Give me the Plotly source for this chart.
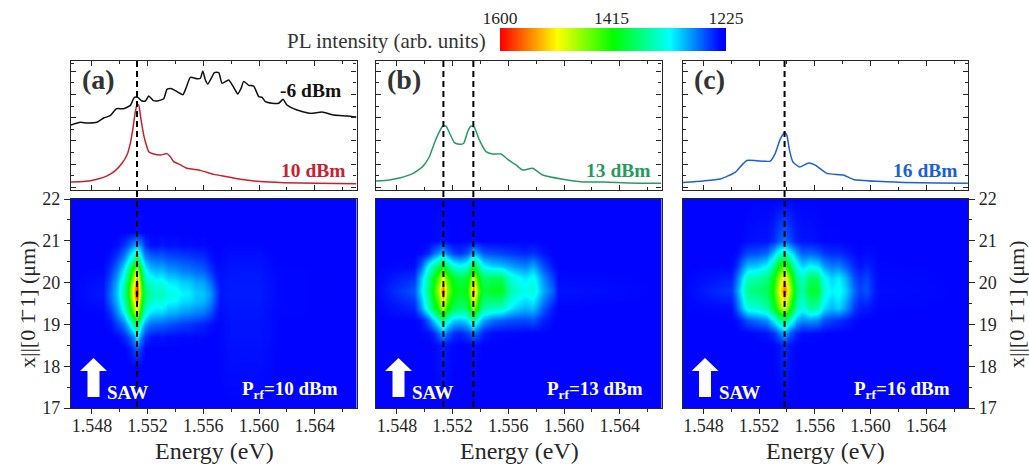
import plotly.graph_objects as go

W, H = 1029, 465
FONT = "Liberation Serif"
INK = "#262626"

# ---------- spectra (normalised units of the upper panels) ----------
black_E = [1.5465,1.54717,1.54765,1.54837,1.54885,1.54932,1.54976,1.55028,1.55076,1.55105,1.55129,1.55160,1.55184,1.55208,1.55239,1.55268,1.55316,1.55339,1.55368,1.55399,1.55423,1.55454,1.55478,1.55507,1.55555,1.55579,1.55596,1.55615,1.55632,1.55663,1.55679,1.55711,1.55735,1.55782,1.55818,1.55847,1.55871,1.55890,1.55926,1.55962,1.55998,1.56022,1.56046,1.56094,1.56141,1.56173,1.56201,1.56273,1.56369,1.56453,1.56537,1.56632,1.56700]
black_I = [.504,.525,.519,.525,.558,.576,.630,.630,.656,.718,.718,.690,.690,.729,.695,.690,.708,.780,.786,.770,.755,.739,.796,.873,.863,.866,.922,.853,.822,.879,.910,.910,.827,.853,.796,.744,.788,.842,.811,.806,.724,.718,.685,.672,.672,.703,.659,.620,.594,.605,.581,.574,.566]
red_E = [1.5465,1.54741,1.54837,1.54909,1.54968,1.55016,1.55052,1.55076,1.55095,1.55112,1.55124,1.55136,1.55153,1.55172,1.55191,1.55208,1.55244,1.55292,1.55339,1.55363,1.55387,1.55423,1.55483,1.55579,1.55675,1.55770,1.55866,1.56010,1.56177,1.56417,1.56700]
red_I = [.062,.065,.083,.109,.150,.207,.271,.362,.478,.607,.659,.659,.543,.426,.349,.297,.279,.271,.282,.258,.220,.202,.168,.152,.121,.103,.083,.065,.057,.052,.049]
green_E = [1.5465,1.54746,1.54818,1.54913,1.54985,1.55033,1.55069,1.55105,1.55129,1.55153,1.55177,1.55213,1.55249,1.55280,1.55308,1.55332,1.55356,1.55392,1.55440,1.55488,1.55548,1.55596,1.55655,1.55703,1.55775,1.55847,1.55991,1.56134,1.56278,1.56469,1.56699]
green_I = [.070,.078,.093,.127,.181,.258,.362,.452,.496,.496,.444,.367,.354,.362,.452,.496,.486,.388,.297,.279,.279,.238,.194,.155,.168,.116,.083,.062,.062,.054,.052]
blue_E = [1.5465,1.54801,1.54921,1.55028,1.55076,1.55112,1.55184,1.55280,1.55316,1.55351,1.55383,1.55399,1.55418,1.55442,1.55490,1.55555,1.55603,1.55687,1.55806,1.55878,1.56046,1.56237,1.56477,1.56699]
blue_I = [.059,.070,.085,.137,.193,.229,.227,.224,.284,.392,.446,.425,.309,.219,.178,.209,.193,.129,.116,.082,.067,.059,.054,.052]

# ---------- position-resolved PL maps ----------
a_E = [1.5465,1.5488,1.5493,1.5498,1.5503,1.5507,1.5510,1.55124,1.5515,1.5518,1.5522,1.5526,1.5530,1.5535,1.5540,1.5545,1.5550,1.5555,1.5560,1.5565,1.5569,1.5572,1.5580,1.5600,1.5610,1.5615,1.5670]
a_y = [17,18,18.4,18.7,19,19.3,19.55,19.75,20,20.3,20.6,20.9,21.2,22]
a_z = [
 [1235,1235,1235,1235,1235,1235,1235,1235,1235,1235,1235,1235,1235,1235,1235,1235,1235,1235,1235,1235,1235,1235,1235,1235,1235,1235,1235],
 [1235,1235,1235,1235,1235,1235,1235,1235,1235,1235,1235,1235,1235,1235,1235,1235,1235,1235,1235,1235,1235,1236,1238,1238,1236,1235,1235],
 [1235,1235,1235,1235,1235,1240,1255,1262,1250,1236,1235,1235,1235,1235,1235,1235,1235,1235,1235,1235,1235,1236,1239,1239,1236,1235,1235],
 [1235,1235,1235,1235,1245,1260,1285,1320,1275,1250,1242,1238,1240,1237,1238,1236,1237,1236,1236,1235,1235,1236,1240,1240,1237,1235,1235],
 [1235,1235,1238,1255,1275,1310,1360,1395,1320,1285,1272,1268,1266,1262,1258,1254,1252,1248,1245,1240,1236,1236,1240,1240,1237,1235,1235],
 [1235,1236,1250,1280,1320,1380,1450,1500,1390,1335,1312,1306,1306,1296,1294,1286,1284,1278,1275,1262,1245,1238,1241,1241,1237,1236,1235],
 [1235,1240,1265,1295,1345,1410,1500,1560,1430,1365,1342,1332,1335,1320,1318,1308,1306,1298,1295,1280,1255,1240,1242,1242,1238,1236,1235],
 [1235,1242,1268,1300,1355,1425,1530,1600,1445,1375,1352,1340,1345,1328,1326,1316,1314,1302,1300,1285,1258,1241,1243,1243,1238,1236,1235],
 [1235,1240,1262,1295,1345,1410,1505,1575,1430,1358,1337,1328,1330,1315,1313,1304,1302,1292,1290,1272,1250,1240,1242,1242,1238,1236,1235],
 [1235,1236,1250,1275,1315,1370,1440,1485,1385,1322,1302,1294,1296,1285,1283,1276,1274,1268,1265,1252,1240,1238,1241,1241,1237,1236,1235],
 [1235,1235,1240,1255,1280,1315,1350,1375,1320,1284,1272,1268,1268,1262,1260,1257,1255,1252,1250,1240,1236,1236,1239,1239,1236,1235,1235],
 [1235,1235,1235,1238,1250,1265,1285,1290,1275,1250,1240,1238,1242,1238,1240,1237,1238,1236,1237,1235,1235,1235,1236,1236,1235,1235,1235],
 [1235,1235,1235,1235,1235,1235,1236,1238,1236,1235,1235,1235,1235,1235,1235,1235,1235,1235,1235,1235,1235,1235,1235,1235,1235,1235,1235],
 [1235,1235,1235,1235,1235,1235,1235,1235,1235,1235,1235,1235,1235,1235,1235,1235,1235,1235,1235,1235,1235,1235,1235,1235,1235,1235,1235],
]

b_E = [1.5465,1.5492,1.5497,1.5502,1.5506,1.5510,1.55134,1.5516,1.5520,1.5525,1.5530,1.5533,1.55349,1.5538,1.5542,1.5548,1.5555,1.5560,1.5565,1.5572,1.5578,1.5585,1.5592,1.5596,1.5670]
b_y = [17,18.5,18.8,19.1,19.4,19.8,20.1,20.4,20.7,21,22]
b_z = [
 [1235,1235,1235,1235,1235,1235,1235,1235,1235,1235,1235,1235,1235,1235,1235,1235,1235,1235,1235,1235,1235,1235,1235,1235,1235],
 [1235,1235,1235,1235,1236,1240,1245,1240,1236,1235,1235,1237,1240,1237,1235,1235,1235,1235,1235,1235,1235,1235,1235,1235,1235],
 [1235,1235,1236,1238,1245,1270,1290,1270,1250,1245,1255,1265,1275,1260,1245,1238,1237,1236,1236,1235,1235,1235,1235,1235,1235],
 [1235,1235,1240,1265,1300,1340,1370,1335,1305,1300,1310,1340,1355,1320,1290,1272,1265,1262,1260,1258,1262,1245,1236,1235,1235],
 [1235,1245,1285,1340,1385,1430,1480,1420,1385,1370,1380,1435,1470,1400,1355,1345,1340,1320,1305,1295,1300,1265,1242,1235,1235],
 [1235,1262,1310,1365,1415,1480,1575,1465,1415,1400,1410,1490,1560,1450,1390,1400,1405,1360,1340,1325,1335,1292,1265,1240,1235],
 [1235,1250,1300,1355,1400,1450,1500,1440,1400,1385,1395,1450,1490,1420,1375,1380,1382,1342,1325,1312,1325,1282,1255,1237,1235],
 [1235,1237,1265,1320,1350,1385,1410,1370,1335,1320,1335,1375,1400,1360,1320,1305,1300,1292,1285,1278,1290,1260,1240,1235,1235],
 [1235,1235,1237,1245,1265,1285,1300,1275,1255,1250,1262,1280,1295,1280,1262,1258,1255,1252,1250,1246,1250,1240,1235,1235,1235],
 [1235,1235,1235,1235,1236,1238,1240,1237,1235,1235,1235,1236,1238,1236,1235,1235,1235,1235,1235,1235,1235,1235,1235,1235,1235],
 [1235,1235,1235,1235,1235,1235,1235,1235,1235,1235,1235,1235,1235,1235,1235,1235,1235,1235,1235,1235,1235,1235,1235,1235,1235],
]

c_E = [1.5465,1.5500,1.5504,1.5508,1.5512,1.5518,1.5525,1.5530,1.5534,1.55383,1.5542,1.5547,1.5551,1.5556,1.5562,1.5566,1.5572,1.5577,1.5582,1.5588,1.5592,1.5597,1.5602,1.5606,1.5670]
c_y = [17,18.5,18.8,19.1,19.4,19.8,20.1,20.4,20.7,21,22]
c_z = [
 [1235,1235,1235,1235,1235,1235,1235,1235,1235,1235,1235,1235,1235,1235,1235,1235,1235,1235,1235,1235,1235,1235,1235,1235,1235],
 [1235,1235,1235,1235,1235,1235,1235,1236,1240,1250,1240,1236,1235,1235,1235,1235,1235,1235,1235,1235,1235,1235,1235,1235,1235],
 [1235,1235,1235,1235,1235,1237,1240,1250,1268,1295,1265,1245,1238,1238,1237,1236,1235,1235,1235,1235,1235,1235,1235,1235,1235],
 [1235,1235,1238,1250,1262,1272,1282,1315,1350,1375,1340,1295,1280,1285,1280,1262,1255,1250,1245,1238,1236,1235,1235,1235,1235],
 [1235,1238,1262,1300,1330,1335,1350,1395,1450,1490,1430,1345,1325,1355,1350,1310,1295,1305,1285,1255,1243,1242,1238,1236,1235],
 [1235,1252,1282,1325,1365,1370,1380,1420,1490,1565,1480,1375,1350,1395,1395,1335,1315,1325,1305,1272,1255,1262,1245,1238,1235],
 [1235,1244,1270,1310,1345,1350,1365,1405,1465,1525,1450,1360,1340,1378,1378,1325,1305,1315,1295,1262,1250,1258,1243,1237,1235],
 [1235,1236,1248,1278,1298,1302,1318,1362,1410,1440,1395,1325,1305,1318,1312,1288,1275,1278,1265,1248,1240,1245,1240,1236,1235],
 [1235,1235,1237,1248,1258,1260,1268,1298,1330,1345,1320,1285,1265,1268,1262,1252,1248,1248,1243,1238,1236,1238,1237,1235,1235],
 [1235,1235,1235,1236,1238,1240,1240,1248,1262,1272,1258,1244,1240,1240,1238,1236,1236,1236,1235,1235,1235,1235,1235,1235,1235],
 [1235,1235,1235,1235,1235,1235,1235,1235,1235,1235,1235,1235,1235,1235,1235,1235,1235,1235,1235,1235,1235,1235,1235,1235,1235],
]

scale_values = [1600, 1506, 1412, 1318, 1225]
scale_ticks = [1600, 1415, 1225]
energy_ticks = [1.548, 1.552, 1.556, 1.560, 1.564]
energy_minor = [1.550, 1.554, 1.558, 1.562, 1.566]
position_ticks = [17, 18, 19, 20, 21, 22]
position_minor = [17.5, 18.5, 19.5, 20.5, 21.5]
signal_ticks = [0.02, 0.2, 0.38, 0.56, 0.74, 0.92]
signal_minor = [0.11, 0.29, 0.47, 0.65, 0.83, 0.98]
peaks_a = [1.55124]
peaks_b = [1.55134, 1.55349]
peaks_c = [1.55383]

COLORSCALE = [[0, "#0000ff"], [0.027, "#0003ff"], [0.25, "#00ffff"], [0.5, "#00ff00"], [0.75, "#ffff00"], [1, "#ff0000"]]
E_RANGE = [1.5465, 1.5670]

PANEL_L = [71, 376, 682.5]
PANEL_W = 285.5
TOP = (61, 190)
BOT = (199, 408)


def px(x):
    return x / W


def py(y):
    return 1 - y / H


fig = go.Figure()
layout = dict(
    template="none",
    width=W, height=H, autosize=False,
    margin=dict(l=0, r=0, t=0, b=0, pad=0, autoexpand=False),
    paper_bgcolor="white", plot_bgcolor="white", showlegend=False,
    font=dict(family=FONT, color=INK, size=18),
)
annotations, shapes = [], []


def frame_axis(**kw):
    base = dict(showgrid=False, zeroline=False, showline=True, linecolor=INK,
                linewidth=1.4, mirror="allticks", tickcolor=INK, tickwidth=1.2, automargin=False)
    base.update(kw)
    return base


def note(x, y, text, size, color, anchor="left", angle=0):
    annotations.append(dict(xref="paper", yref="paper", x=px(x), y=py(y), text=text,
                            showarrow=False, xanchor=anchor, yanchor="middle", textangle=angle,
                            font=dict(family=FONT, size=size, color=color)))


spectra = [
    [(black_E, black_I, "#111111"), (red_E, red_I, "#c8202e")],
    [(green_E, green_I, "#259b5e")],
    [(blue_E, blue_I, "#1a5fdc")],
]
maps = [(a_E, a_y, a_z), (b_E, b_y, b_z), (c_E, c_y, c_z)]
peaks = [peaks_a, peaks_b, peaks_c]
letters = ["(a)", "(b)", "(c)"]
powers = ["10", "13", "16"]
label_colors = ["#c8202e", "#259b5e", "#1a5fdc"]
TICKFONT = dict(family=FONT, size=18, color=INK)

for i, left in enumerate(PANEL_L):
    dom = [px(left), px(left + PANEL_W)]
    t, b = 2 * i + 1, 2 * i + 2
    tx, ty = f"x{t}", f"y{t}"
    bx, by = f"x{b}", f"y{b}"

    for E, I, color in spectra[i]:
        fig.add_trace(go.Scatter(x=E, y=I, mode="lines",
                                 line=dict(color=color, width=1.5, shape="spline", smoothing=0.5),
                                 xaxis=tx, yaxis=ty, hoverinfo="skip"))
    E, Y, Z = maps[i]
    fig.add_trace(go.Heatmap(x=E, y=Y, z=Z, zmin=1225, zmax=1600, colorscale=COLORSCALE,
                             zsmooth="best", showscale=False, xaxis=bx, yaxis=by))

    layout[f"xaxis{t}"] = frame_axis(
        domain=dom, range=E_RANGE, anchor=ty, tickvals=energy_ticks, showticklabels=False,
        ticks="inside", ticklen=5, minor=dict(ticks="inside", ticklen=3, tickvals=energy_minor,
                                              tickcolor=INK, tickwidth=1.1))
    layout[f"yaxis{t}"] = frame_axis(
        domain=[py(TOP[1]), py(TOP[0])], range=[0, 1], anchor=tx, tickvals=signal_ticks,
        showticklabels=False, ticks="inside", ticklen=5,
        minor=dict(ticks="inside", ticklen=3, tickvals=signal_minor, tickcolor=INK, tickwidth=1.1))
    layout[f"xaxis{b}"] = frame_axis(
        domain=dom, range=E_RANGE, anchor=by, tickvals=energy_ticks, tickformat=".3f",
        ticks="outside", ticklen=5, mirror=True, tickfont=TICKFONT, ticklabelstandoff=-4,
        minor=dict(ticks="outside", ticklen=3, tickvals=energy_minor, tickcolor=INK, tickwidth=1.1))
    yopts = dict(domain=[py(BOT[1]), py(BOT[0])], range=[17, 22], anchor=bx, mirror=True)
    if i in (0, 2):
        yopts.update(side="left" if i == 0 else "right", tickvals=position_ticks, ticks="outside",
                     ticklen=6, tickfont=TICKFONT,
                     minor=dict(ticks="outside", ticklen=3, tickvals=position_minor,
                                tickcolor=INK, tickwidth=1.1))
    else:
        yopts.update(tickvals=[], ticks="", showticklabels=False)
    layout[f"yaxis{b}"] = frame_axis(**yopts)

    # dashed guide lines through both panels
    for e in peaks[i]:
        shapes.append(dict(type="line", xref=tx, yref="paper", x0=e, x1=e,
                           y0=py(TOP[0]), y1=py(BOT[1]),
                           line=dict(color="#000000", width=2, dash="6px,4px")))
    # SAW arrow
    ax = left + 22.5
    pts = [(ax, 358), (ax + 13.5, 371), (ax + 6, 371), (ax + 6, 397), (ax - 6, 397), (ax - 6, 371), (ax - 13.5, 371)]
    path = "M " + " L ".join(f"{px(x):.5f} {py(y):.5f}" for x, y in pts) + " Z"
    shapes.append(dict(type="path", xref="paper", yref="paper", path=path,
                       fillcolor="white", line=dict(width=0)))

    note(left + 9, 79, f"<b>{letters[i]}</b>", 28, "#333333")
    note(left + 34, 392, "<b>SAW</b>", 19, "white")
    note(left + 169, 390, f"<b>P<sub>rf</sub>={powers[i]} dBm</b>", 19, "white")
    note(left + 208, 170, f"<b>{powers[i]} dBm</b>", 19.5, label_colors[i])
    note(left + 143, 451, "Energy (eV)", 24, INK, anchor="center")

note(278, 91, "<b>-6 dBm</b>", 19.5, "#111111")
note(285, 41, "PL intensity (arb. units)", 21, "#333333")
position_title = "x||[0 1\u0304 1] (\u03bcm)"
note(27, 304, position_title, 22, INK, anchor="center", angle=-90)
note(1016, 304, position_title, 22, INK, anchor="center", angle=-90)

# intensity scale bar
fig.add_trace(go.Heatmap(x=scale_values, y=[0, 1], z=[scale_values, scale_values], zmin=1225, zmax=1600,
                         colorscale=COLORSCALE, zsmooth="best", showscale=False,
                         xaxis="x7", yaxis="y7"))
layout["xaxis7"] = dict(domain=[px(500), px(726)], range=[1600, 1225], anchor="y7", side="top",
                        tickvals=scale_ticks, ticks="", showline=False, showgrid=False, zeroline=False,
                        automargin=False, tickfont=dict(family=FONT, size=17.5, color=INK))
layout["yaxis7"] = dict(domain=[py(51), py(28)], range=[0, 1], anchor="x7", showticklabels=False,
                        ticks="", showline=False, showgrid=False, zeroline=False, automargin=False)

layout["annotations"] = annotations
layout["shapes"] = shapes
fig.update_layout(**layout)
fig.write_html("out.html", config={"displayModeBar": False}, post_script="document.body.style.margin='0';")
